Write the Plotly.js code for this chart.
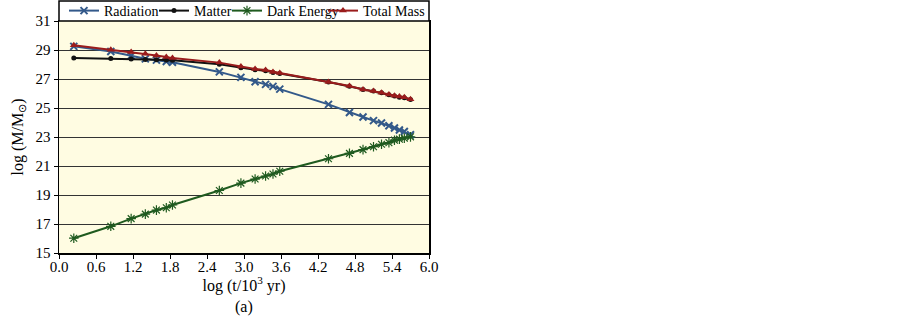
<!DOCTYPE html>
<html>
<head>
<meta charset="utf-8">
<script src="https://cdn.plot.ly/plotly-3.0.1.min.js"></script>
<style>html,body{margin:0;padding:0;background:#fff;}#chart{width:902px;height:318px;}</style>
</head>
<body>
<div id="chart"></div>
<script>
var logT = [0.24, 0.84, 1.17, 1.40, 1.58, 1.74, 1.84,
            2.60, 2.95, 3.18, 3.35, 3.47, 3.58,
            4.37, 4.71, 4.93, 5.10, 5.23, 5.35, 5.44, 5.52, 5.60, 5.70];
var radiation = [29.25, 28.90, 28.60, 28.39, 28.30, 28.21, 28.16,
                 27.49, 27.11, 26.81, 26.63, 26.49, 26.30,
                 25.25, 24.69, 24.38, 24.13, 23.97, 23.78, 23.62, 23.48, 23.38, 23.15];
var matter = [28.44, 28.42, 28.38, 28.35, 28.33, 28.31, 28.30,
              28.02, 27.78, 27.63, 27.57, 27.45, 27.38,
              26.79, 26.50, 26.27, 26.17, 26.06, 25.92, 25.82, 25.75, 25.71, 25.59];
var darkEnergy = [16.02, 16.84, 17.37, 17.68, 17.96, 18.12, 18.31,
                  19.31, 19.82, 20.10, 20.31, 20.45, 20.64,
                  21.50, 21.87, 22.13, 22.33, 22.50, 22.61, 22.78, 22.85, 22.92, 23.01];
var totalMass = [29.32, 29.02, 28.86, 28.74, 28.62, 28.51, 28.44,
                 28.13, 27.86, 27.69, 27.62, 27.49, 27.42,
                 26.79, 26.52, 26.28, 26.17, 26.05, 25.93, 25.85, 25.79, 25.75, 25.60];
var seriesNames = ['Radiation', 'Matter', 'Dark Energy', 'Total Mass'];
var xTicks = [0.0, 0.6, 1.2, 1.8, 2.4, 3.0, 3.6, 4.2, 4.8, 5.4, 6.0];
var yTicks = [15, 17, 19, 21, 23, 25, 27, 29, 31];

var serif = 'Liberation Serif, Times New Roman, serif';
var traces = [
  {x: logT, y: radiation, name: seriesNames[0], mode: 'lines+markers', legend: 'legend',
   line: {color: '#33598a', width: 2},
   marker: {symbol: 'x-thin-open', size: 7, color: '#33598a', line: {width: 2, color: '#33598a'}}},
  {x: logT, y: matter, name: seriesNames[1], mode: 'lines+markers', legend: 'legend2',
   line: {color: '#111111', width: 2},
   marker: {symbol: 'circle', size: 5, color: '#111111'}},
  {x: logT, y: darkEnergy, name: seriesNames[2], mode: 'lines+markers', legend: 'legend3',
   line: {color: '#1f5a1f', width: 2},
   marker: {symbol: 'asterisk-open', size: 8, color: '#1f5a1f', line: {width: 1.2, color: '#2f7a2f'}}},
  {x: logT, y: totalMass, name: seriesNames[3], mode: 'lines+markers', legend: 'legend4',
   line: {color: '#9a1c1c', width: 2},
   marker: {symbol: 'triangle-up', size: 7, color: '#9a1c1c'}}
];

function leg(textStart) {
  return {orientation: 'h', xref: 'container', yref: 'container',
          x: (textStart - 40) / 902, xanchor: 'left', y: 1 - 11 / 318, yanchor: 'middle',
          bgcolor: 'rgba(0,0,0,0)', borderwidth: 0,
          font: {family: serif, size: 14, color: '#000'}, itemwidth: 30};
}

var layout = {
  width: 902, height: 318,
  margin: {l: 59, r: 473, t: 21, b: 65, autoexpand: false},
  paper_bgcolor: '#ffffff',
  plot_bgcolor: '#fffce2',
  font: {family: serif, size: 15, color: '#000'},
  showlegend: true,
  legend: leg(104), legend2: leg(194), legend3: leg(267), legend4: leg(363),
  xaxis: {range: [0, 6], tickvals: xTicks, ticktext: xTicks.map(function(v){return v.toFixed(1);}),
          showgrid: false, zeroline: false, showline: true, linecolor: '#000', linewidth: 1.5, mirror: true,
          ticks: 'outside', ticklen: 4, tickcolor: '#000', ticklabelstandoff: -5,
          tickfont: {family: serif, size: 15},
          title: {text: 'log (t/10<sup>3</sup> yr)', font: {family: serif, size: 16}, standoff: 0}},
  yaxis: {range: [15, 31], tickvals: yTicks, showgrid: true, gridcolor: '#333', gridwidth: 1,
          zeroline: false, showline: true, linecolor: '#000', linewidth: 1.5, mirror: true,
          ticks: 'outside', ticklen: 4, tickcolor: '#000',
          tickfont: {family: serif, size: 15},
          title: {text: 'log (M/M<sub>⊙</sub>)', font: {family: serif, size: 16}, standoff: 8}},
  shapes: [{type: 'rect', xref: 'paper', yref: 'paper', x0: 0, x1: 1, y0: 1, y1: 1 + 20 / 232,
            fillcolor: '#ffffff', line: {color: '#000', width: 1.5}, layer: 'above'}],
  annotations: [{text: '(a)', xref: 'paper', yref: 'paper', x: 0.5, y: -54 / 232, yanchor: 'middle',
                 showarrow: false, font: {family: serif, size: 16, color: '#000'}}]
};

Plotly.newPlot('chart', traces, layout, {displayModeBar: false, staticPlot: true});
</script>
</body>
</html>
